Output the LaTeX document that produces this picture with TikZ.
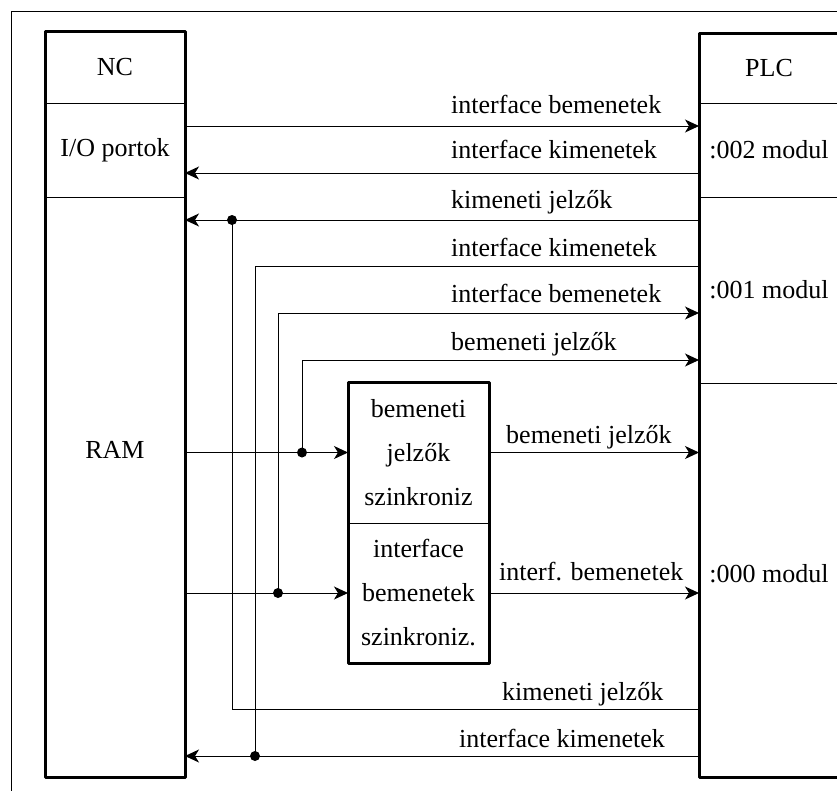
\documentclass[tikz,border=0pt]{standalone}
\usepackage{fontspec}
\setmainfont{Liberation Serif}
\usetikzlibrary{arrows.meta,positioning}
\usetikzlibrary{backgrounds}

\begin{document}
\begin{tikzpicture}[
        x=1pt, y=-1pt,
        background rectangle/.style={fill=white}, show background rectangle, inner frame sep=0pt,
        onlytext/.style={font=\fontsize{26}{31}\selectfont, inner sep=0pt},
        section/.style={rectangle, draw, line width=1pt, minimum width=140pt, outer sep=0pt, inner sep=0pt, font=\fontsize{26}{31}\selectfont},
        syncsection/.style={section, minimum width=141pt, align=center, font=\fontsize{26}{44}\selectfont},
        outline/.style={line width=3pt, line join=round},
        normalline/.style={line width=1pt},
        arrowline/.style={normalline, -{Stealth[length=14pt, width=13pt, inset=4pt]}},
    ]
        \useasboundingbox (0,0) rectangle (837,790);
        \clip (0,0) rectangle (837,790);
        \draw[normalline] (11,11) rectangle (860,810);

        % NC side
        \node[section, minimum height=72pt] (nc) at (115,67) {NC};
        \node[section, minimum height=94pt, below=0pt of nc] (io) {I/O portok};
        \node[section, minimum height=580pt, below=0pt of io] (ram) {};
        \node[onlytext] (ramtext) at (115,450) {RAM};
        \draw[outline] (nc.north west) rectangle (ram.south east);

        % PLC side
        \node[section, minimum height=70pt] (plc) at (769,68) {PLC};
        \node[section, minimum height=94pt, below=0pt of plc] (mod2) {:002 modul};
        \node[section, minimum height=186pt, below=0pt of mod2] (mod1) {:001 modul};
        \node[section, minimum height=394pt, text depth=14pt, below=0pt of mod1] (mod0) {:000 modul};
        \draw[outline] (plc.north west) rectangle (mod0.south east);

        % szinkronizalo
        \node[syncsection, minimum height=141pt] (syncbe) at (418.5,452.5) {bemeneti\\jelzők\\szinkroniz};
        \node[syncsection, minimum height=140pt, below=0pt of syncbe] (syncif) {interface\\bemenetek\\szinkroniz.};
        \draw[outline] (syncbe.north west) rectangle (syncif.south east);

        \coordinate (j1) at (232,220);
        \coordinate (j2) at (255,756);
        \coordinate (j3) at (278,593);
        \coordinate (j4) at (302,452.5);
        \coordinate (b1) at (232,709);
        \coordinate (b2) at (255,266);
        \coordinate (b3) at (278,313);
        \coordinate (b4) at (302,360);

        \draw[arrowline] ([yshift=24pt]io.east) -- ([yshift=24pt]mod2.west);
        \draw[arrowline] ([yshift=-23pt]mod2.west) -- ([yshift=-23pt]io.east);
        \draw[arrowline] (mod1.west |- j1) -- (ram.east |- j1);
        \draw[normalline] (mod0.west |- b1) -- (b1) -- (j1);
        \draw[normalline] (mod1.west |- b2) -- (b2) -- (j2);
        \draw[arrowline] (mod0.west |- j2) -- (ram.east |- j2);
        \draw[arrowline] (j3) -- (b3) -- (mod1.west |- b3);
        \draw[arrowline] (j4) -- (b4) -- (mod1.west |- b4);
        \draw[arrowline] (ram.east |- syncbe.west) -- (syncbe.west);
        \draw[arrowline] (syncbe.east) -- (mod0.west |- syncbe.east);
        \draw[arrowline] (ram.east |- syncif.west) -- (syncif.west);
        \draw[arrowline] (syncif.east) -- (mod0.west |- syncif.east);
        \foreach \j in {j1,j2,j3,j4}
            \fill (\j) circle (5pt);

        \node[onlytext, anchor=base west] (l1) at (451,113) {interface bemenetek};
        \node[onlytext, anchor=base west] (l2) at (451,158) {interface kimenetek};
        \node[onlytext, anchor=base west] (l3) at (451,208) {kimeneti jelzők};
        \node[onlytext, anchor=base west] (l4) at (451,256) {interface kimenetek};
        \node[onlytext, anchor=base west] (l5) at (451,302) {interface bemenetek};
        \node[onlytext, anchor=base west] (l6) at (451,350) {bemeneti jelzők};
        \node[onlytext, anchor=base west] (l7) at (506,443) {bemeneti jelzők};
        \node[onlytext, anchor=base west] (l8) at (499,580) {interf. bemenetek};
        \node[onlytext, anchor=base west] (l9) at (502,700) {kimeneti jelzők};
        \node[onlytext, anchor=base west] (l10) at (459,747) {interface kimenetek};
    \end{tikzpicture}
\end{document}
